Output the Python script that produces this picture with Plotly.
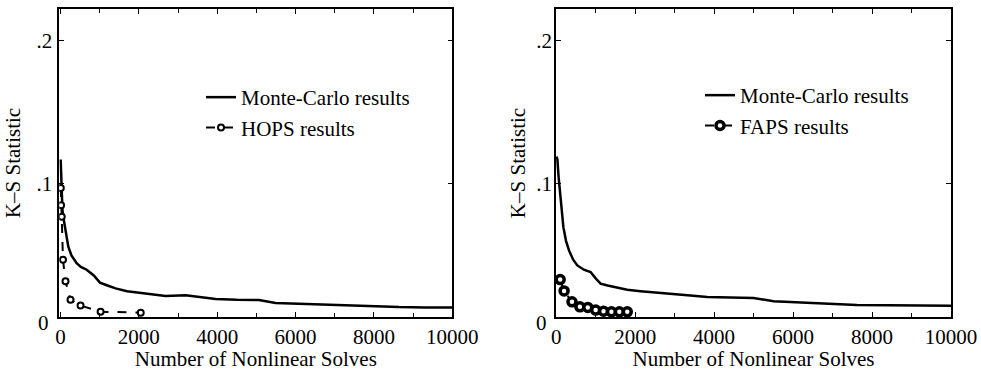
import plotly.graph_objects as go

# Monte-Carlo K-S statistic vs number of nonlinear solves (left panel)
mc_left_x = [5, 15, 30, 50, 71, 115, 200, 280, 413, 520, 668, 850, 1008, 1200, 1405, 1700,
             2000, 2300, 2682, 3193, 3600, 3960, 4500, 5065, 5490, 6000, 6930, 7800, 8640, 9300, 10000]
mc_left_y = [0.117, 0.105, 0.089, 0.082, 0.077, 0.069, 0.056, 0.050, 0.0445, 0.042, 0.040, 0.036,
             0.031, 0.029, 0.027, 0.025, 0.024, 0.023, 0.0217, 0.0222, 0.021, 0.0196, 0.019, 0.0189,
             0.0168, 0.0163, 0.0154, 0.0148, 0.0139, 0.0137, 0.0136]

# HOPS results
hops_x = [8, 16, 32, 64, 128, 256, 512, 1024, 2048]
hops_y = [0.097, 0.085, 0.077, 0.047, 0.032, 0.019, 0.015, 0.0107, 0.0100]

# Monte-Carlo K-S statistic (right panel)
mc_right_x = [10, 30, 60, 114, 182, 250, 324, 430, 536, 700, 872, 1000, 1125, 1300, 1547, 1800,
              2137, 2500, 2980, 3400, 3823, 4400, 5000, 5505, 6000, 6770, 7615, 8500, 9300, 10000]
mc_right_y = [0.119, 0.117, 0.105, 0.088, 0.0697, 0.060, 0.0535, 0.047, 0.043, 0.040, 0.0384, 0.034,
              0.0303, 0.029, 0.0276, 0.026, 0.025, 0.024, 0.0229, 0.022, 0.021, 0.0205, 0.0203, 0.018,
              0.0175, 0.0165, 0.0153, 0.015, 0.0149, 0.0148]

# FAPS results
faps_x = [100, 200, 400, 600, 800, 1000, 1200, 1400, 1600, 1800]
faps_y = [0.0331, 0.0252, 0.0176, 0.0141, 0.0137, 0.0118, 0.0111, 0.0106, 0.0106, 0.0106]

x_ticks = [0, 2000, 4000, 6000, 8000, 10000]
x_tick_text = ["0", "2000", "4000", "6000", "8000", "10000"]
y_ticks = [0.1, 0.2]
y_tick_text = [".1", ".2"]

W, H = 981, 371
SERIF = "Liberation Serif"
BLACK = "black"
FS = 21

fig = go.Figure()

fig.add_trace(go.Scatter(x=mc_left_x, y=mc_left_y, mode="lines", name="Monte-Carlo results",
                         line=dict(color=BLACK, width=2.5), xaxis="x", yaxis="y", legend="legend"))
fig.add_trace(go.Scatter(x=hops_x, y=hops_y, mode="lines+markers", name="HOPS results",
                         line=dict(color=BLACK, width=2, dash="dash"),
                         marker=dict(symbol="circle", size=6, color="white",
                                     line=dict(color=BLACK, width=2)),
                         xaxis="x", yaxis="y", legend="legend"))
fig.add_trace(go.Scatter(x=mc_right_x, y=mc_right_y, mode="lines", name="Monte-Carlo results",
                         line=dict(color=BLACK, width=2.5), xaxis="x2", yaxis="y2", legend="legend2"))
fig.add_trace(go.Scatter(x=faps_x, y=faps_y, mode="lines+markers", name="FAPS results",
                         line=dict(color=BLACK, width=2, dash="dash"),
                         marker=dict(symbol="circle", size=8, color="white",
                                     line=dict(color=BLACK, width=3.5)),
                         xaxis="x2", yaxis="y2", legend="legend2"))

tick_font = dict(family=SERIF, size=FS, color=BLACK)
title_font = dict(family=SERIF, size=FS, color=BLACK)


def x_axis(domain, rng):
    return dict(domain=domain, range=rng, tickvals=x_ticks, ticktext=x_tick_text,
                ticks="inside", ticklen=5, automargin=False,
                tickcolor=BLACK, showline=True, linecolor=BLACK, linewidth=1.5, mirror="ticks",
                showgrid=False, zeroline=False, tickfont=tick_font,
                minor=dict(dtick=1000, ticks="inside", ticklen=4, tickcolor=BLACK, showgrid=False),
                title=dict(text="Number of Nonlinear Solves", font=title_font, standoff=6))


def y_axis(domain, anchor, label_gap, title_gap):
    return dict(domain=domain, range=[0.007, 0.222], tickvals=y_ticks, ticktext=y_tick_text,
                ticks="inside", ticklen=5, tickcolor=BLACK, showline=True, linecolor=BLACK,
                linewidth=1.5, mirror="ticks", showgrid=False, zeroline=False, tickfont=tick_font,
                anchor=anchor, ticklabelstandoff=label_gap, automargin=False,
                title=dict(text="K–S Statistic", font=title_font, standoff=title_gap))


y_dom = [1 - 317 / H, 1 - 9 / H]
legend_font = dict(family=SERIF, size=FS, color=BLACK)
fig.update_layout(
    template="none",
    width=W, height=H, margin=dict(l=0, r=0, t=0, b=0, autoexpand=False),
    paper_bgcolor="white", plot_bgcolor="white",
    font=dict(family=SERIF, color=BLACK),
    xaxis=x_axis([59.3 / W, 452.3 / W], [-30, 10000]) | dict(anchor="y"),
    yaxis=y_axis(y_dom, "x", 1, 10),
    xaxis2=x_axis([556 / W, 951 / W], [-5, 10000]) | dict(anchor="y2"),
    yaxis2=y_axis(y_dom, "x2", -2, 5),
    legend=dict(x=201 / W, y=1 - 77 / H, xanchor="left", yanchor="top",
                bgcolor="rgba(0,0,0,0)", font=legend_font, borderwidth=0,
                itemwidth=30, tracegroupgap=0),
    legend2=dict(x=700 / W, y=1 - 75 / H, xanchor="left", yanchor="top",
                 bgcolor="rgba(0,0,0,0)", font=legend_font, borderwidth=0,
                 itemwidth=30, tracegroupgap=0),
    showlegend=True,
)

# Origin label at the lower-left corner of each frame
for xp in (43.3, 541.7):
    fig.add_annotation(text="0", x=xp / W, y=1 - 323 / H, xref="paper", yref="paper",
                       showarrow=False, font=tick_font, xanchor="center", yanchor="middle")

fig.write_html("out.html")
